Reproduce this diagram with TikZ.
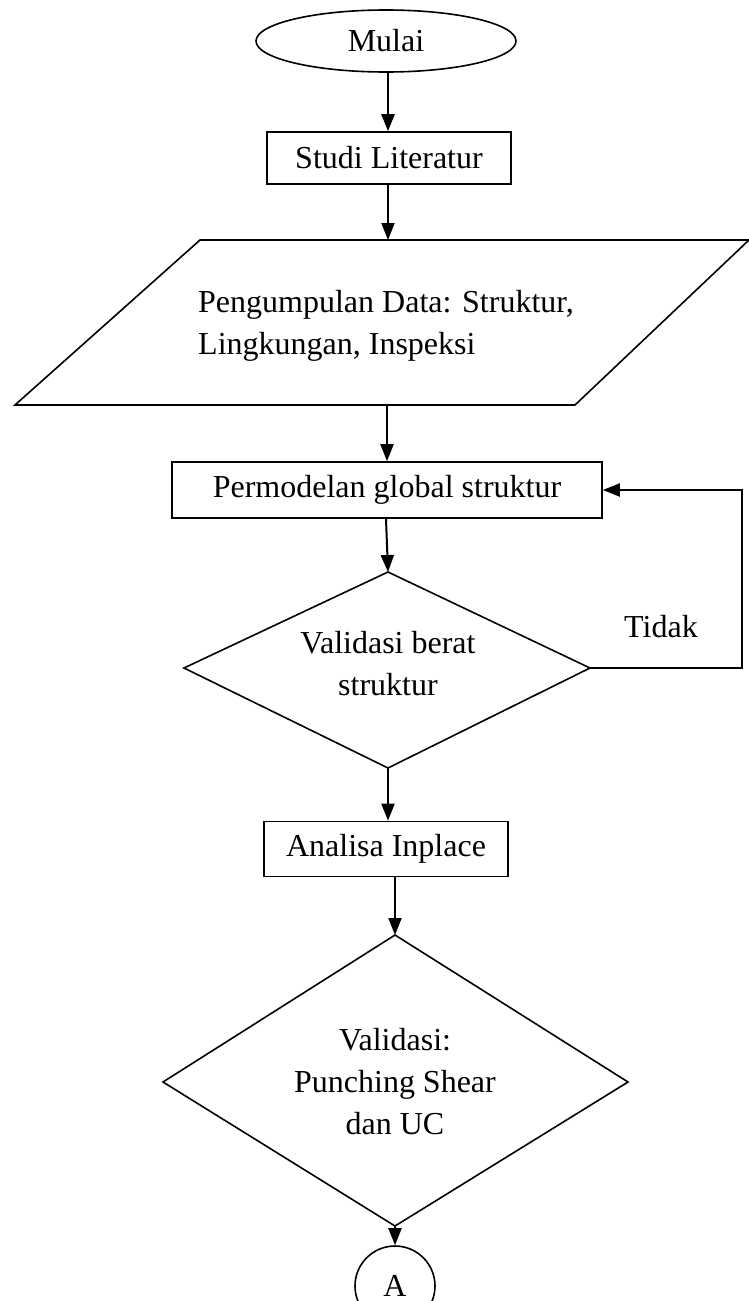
\documentclass[tikz,border=0pt]{standalone}
\usepackage{fontspec}
\setmainfont{Liberation Serif}
\usetikzlibrary{arrows.meta,shapes.geometric}
\begin{document}
\begin{tikzpicture}[x=1pt,y=-1pt,
  shapeline/.style={draw, line width=1.6pt},
  txt/.style={font=\fontsize{32}{42}\selectfont, inner sep=0pt},
  boxnode/.style={shapeline, txt, rectangle},
  flow/.style={line width=2pt, -{Triangle[length=17pt,width=13pt]}}
  ]
\useasboundingbox (0,0) rectangle (749,1301);

% start
\node[ellipse, shapeline, txt, minimum width=260pt, minimum height=62pt] (mulai) at (386,41) {Mulai};
\node[boxnode, minimum width=244pt, minimum height=52pt] (studi) at (389,158) {Studi Literatur};

% parallelogram
\coordinate (ptl) at (200,240);
\coordinate (ptr) at (749,240);
\coordinate (pbr) at (575,405);
\coordinate (pbl) at (15,405);
\draw[shapeline] (ptl) -- (ptr) -- (pbr) -- (pbl) -- cycle;
\coordinate (ptop) at (388,240);
\coordinate (pbot) at (387,405);
\node[txt, anchor=west, align=left] (data) at (198,326) {Pengumpulan Data: Struktur,\\Lingkungan, Inspeksi};

\node[boxnode, minimum width=430pt, minimum height=56pt] (perm) at (387,490) {Permodelan global struktur};

% diamond 1
\coordinate (d1t) at (388,572);
\coordinate (d1r) at (590,668);
\coordinate (d1b) at (388,768);
\coordinate (d1l) at (184,668);
\draw[shapeline] (d1t) -- (d1r) -- (d1b) -- (d1l) -- cycle;
\node[txt, align=center] (val1) at (388,664) {Validasi berat\\struktur};

\node[boxnode, minimum width=244pt, minimum height=55pt] (analisa) at (386,849) {Analisa Inplace};

% diamond 2
\coordinate (d2t) at (395,935);
\coordinate (d2r) at (628,1082);
\coordinate (d2b) at (395,1226);
\coordinate (d2l) at (163,1082);
\draw[shapeline] (d2t) -- (d2r) -- (d2b) -- (d2l) -- cycle;
\node[txt, align=center] (val2) at (395,1082) {Validasi:\\Punching Shear\\dan UC};

% connector
\node[circle, shapeline, minimum size=80pt, inner sep=0pt, txt] (conA) at (395,1286) {A};

% loop
\coordinate (lp1) at (742,668);
\coordinate (lp2) at (742,490);
\node[txt] (tidak) at (661,627) {Tidak};

% arrows
\draw[flow] (mulai.south -| 388,0) -- (studi.north -| 388,0);
\draw[flow] (studi.south -| 388,0) -- (ptop);
\draw[flow] (pbot) -- (perm.north -| 387,0);
\draw[flow] (perm.south -| 386,0) -- (d1t);
\draw[flow] (d1r) -- (lp1) -- (lp2) -- (perm.east);
\draw[flow] (d1b) -- (analisa.north -| 388,0);
\draw[flow] (analisa.south -| 395,0) -- (d2t);
\draw[flow] (d2b) -- (conA.north);
\end{tikzpicture}
\end{document}
